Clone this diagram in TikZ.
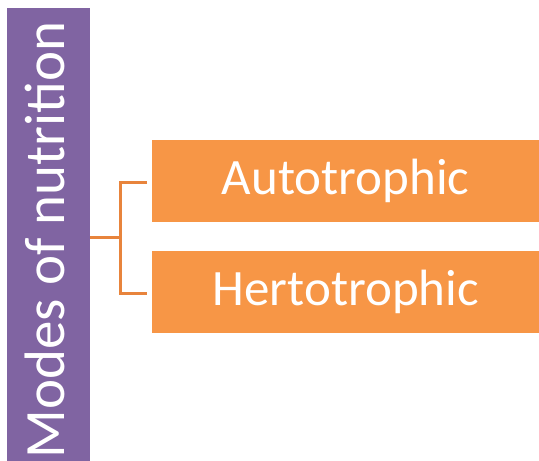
\documentclass[tikz,border=0pt]{standalone}
\usepackage{fontspec}
\setmainfont{Carlito}
\definecolor{modpurple}{HTML}{8064A2}
\definecolor{modorange}{HTML}{F79646}
\definecolor{linkorange}{HTML}{E8843C}
\begin{document}
\begin{tikzpicture}[x=1pt,y=-1pt,
  titlebar/.style={fill=modpurple,draw=none},
  catbox/.style={fill=modorange,draw=none,minimum width=387pt,minimum height=82pt,inner sep=0pt,
     text=white,font=\fontsize{51}{61}\selectfont},
  link/.style={draw=linkorange,line width=3pt}]
\useasboundingbox (0,0) rectangle (539,461);
\fill[white] (0,0) rectangle (539,461);
\path[titlebar] (7,8) rectangle (90,461);
\node[anchor=base,rotate=90,text=white,font=\fontsize{57}{68}\selectfont,inner sep=0pt] (title) at (64,240) {Modes of nutrition};
\coordinate (barR) at (90,237);
\node[catbox,anchor=north west] (auto) at (152,140) {\raisebox{-3pt}{Autotrophic}};
\node[catbox,anchor=north west] (hetero) at (152,251) {\raisebox{-3pt}{Hertotrophic}};
\coordinate (mid) at (120,237);
\draw[link] (barR) -- (mid);
\draw[link] ([xshift=-5pt]auto.west |- 0,182) -| (mid) |- ([xshift=-5pt]hetero.west |- 0,293);
\end{tikzpicture}
\end{document}
